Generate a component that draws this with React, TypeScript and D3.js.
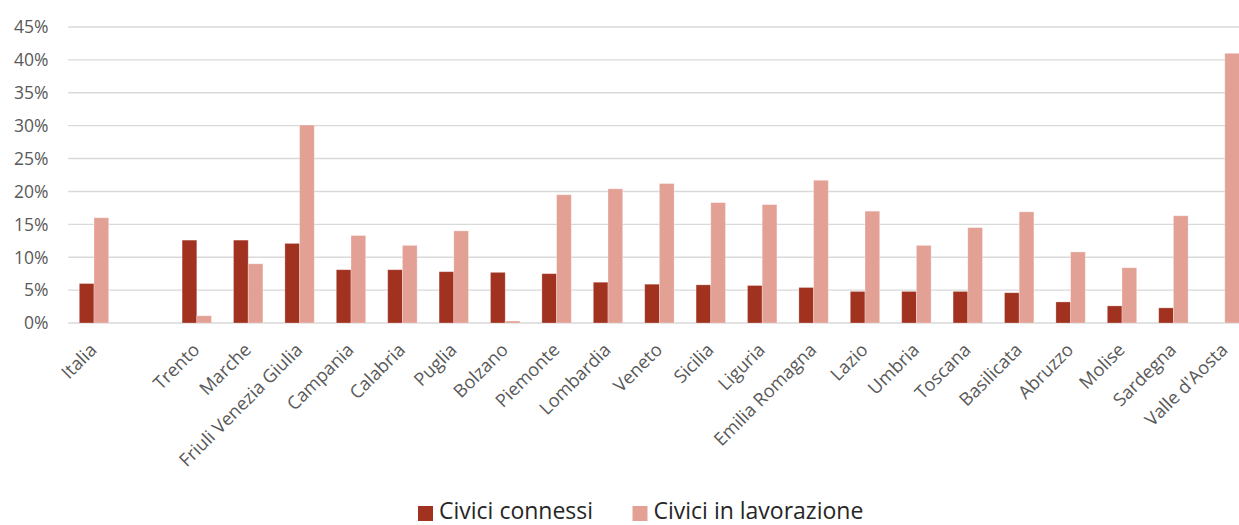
import React from "react";
import * as d3 from "d3";

const categories: string[] = [
  "Italia", "", "Trento", "Marche", "Friuli Venezia Giulia", "Campania", "Calabria",
  "Puglia", "Bolzano", "Piemonte", "Lombardia", "Veneto", "Sicilia", "Liguria",
  "Emilia Romagna", "Lazio", "Umbria", "Toscana", "Basilicata", "Abruzzo", "Molise",
  "Sardegna", "Valle d'Aosta",
];
const civiciConnessi: (number | null)[] = [
  6.0, null, 12.6, 12.6, 12.1, 8.1, 8.1, 7.8, 7.7, 7.5, 6.2, 5.9, 5.8, 5.7,
  5.4, 4.8, 4.8, 4.8, 4.6, 3.2, 2.6, 2.3, 0,
];
const civiciInLavorazione: (number | null)[] = [
  16.0, null, 1.1, 9.0, 30.1, 13.3, 11.8, 14.0, 0.3, 19.5, 20.4, 21.2, 18.3, 18.0,
  21.7, 17.0, 11.8, 14.5, 16.9, 10.8, 8.4, 16.3, 41.0,
];
const seriesNames: string[] = ["Civici connessi", "Civici in lavorazione"];
const seriesColors: string[] = ["#A0321F", "#E3A195"];
const yTicks: number[] = [0, 5, 10, 15, 20, 25, 30, 35, 40, 45];

const W = 1239;
const H = 525;
const FONT = "'Open Sans', sans-serif";

export default function App() {
  const keys = categories.map((c, i) => `${i}`);
  const x0 = d3
    .scaleBand<string>()
    .domain(keys)
    .range([68.3, 1250.5])
    .paddingInner(0.428)
    .paddingOuter(0.214);
  const x1 = d3.scaleBand<string>().domain(seriesNames).range([0, x0.bandwidth()]);
  const y = d3.scaleLinear().domain([0, 45]).range([323, 27]);
  const series = [civiciConnessi, civiciInLavorazione];

  return (
    <div style={{ position: "absolute", left: 0, top: 0 }}>
      <svg width={W} height={H} style={{ display: "block", background: "#fff" }}>
        <rect x={0} y={0} width={W} height={H} fill="#fff" />
        {yTicks.map((t) => (
          <g key={t}>
            <line x1={68.3} x2={W} y1={y(t)} y2={y(t)} stroke="#D9D9D9" strokeWidth={1.4} />
            <text
              x={48.5}
              y={y(t)}
              dy="0.36em"
              textAnchor="end"
              fontFamily={FONT}
              fontSize={17.5}
              fill="#595959"
            >
              {t}%
            </text>
          </g>
        ))}
        {series.map((vals, si) =>
          vals.map((v, i) =>
            v === null || v === 0 ? null : (
              <rect
                key={`${si}-${i}`}
                x={(x0(keys[i]) ?? 0) + (x1(seriesNames[si]) ?? 0)}
                y={y(v)}
                width={x1.bandwidth()}
                height={y(0) - y(v)}
                fill={seriesColors[si]}
                stroke="#ffffff"
                strokeOpacity={0.35}
                strokeWidth={0.8}
              />
            )
          )
        )}
        {categories.map((c, i) => {
          const cx = (x0(keys[i]) ?? 0) + x0.bandwidth() / 2;
          return c ? (
            <text
              key={`l${i}`}
              transform={`translate(${cx + 4},${351}) rotate(-45)`}
              textAnchor="end"
              fontFamily={FONT}
              fontSize={18.2}
              fill="#595959"
            >
              {c}
            </text>
          ) : null;
        })}
        {seriesNames.map((s, si) => {
          const lx = si === 0 ? 418 : 632.5;
          return (
            <g key={s}>
              <rect x={lx} y={506} width={15} height={15} fill={seriesColors[si]} />
              <text x={lx + 21} y={518.5} fontFamily={FONT} fontSize={23} fill="#262626">
                {s}
              </text>
            </g>
          );
        })}
      </svg>
    </div>
  );
}
